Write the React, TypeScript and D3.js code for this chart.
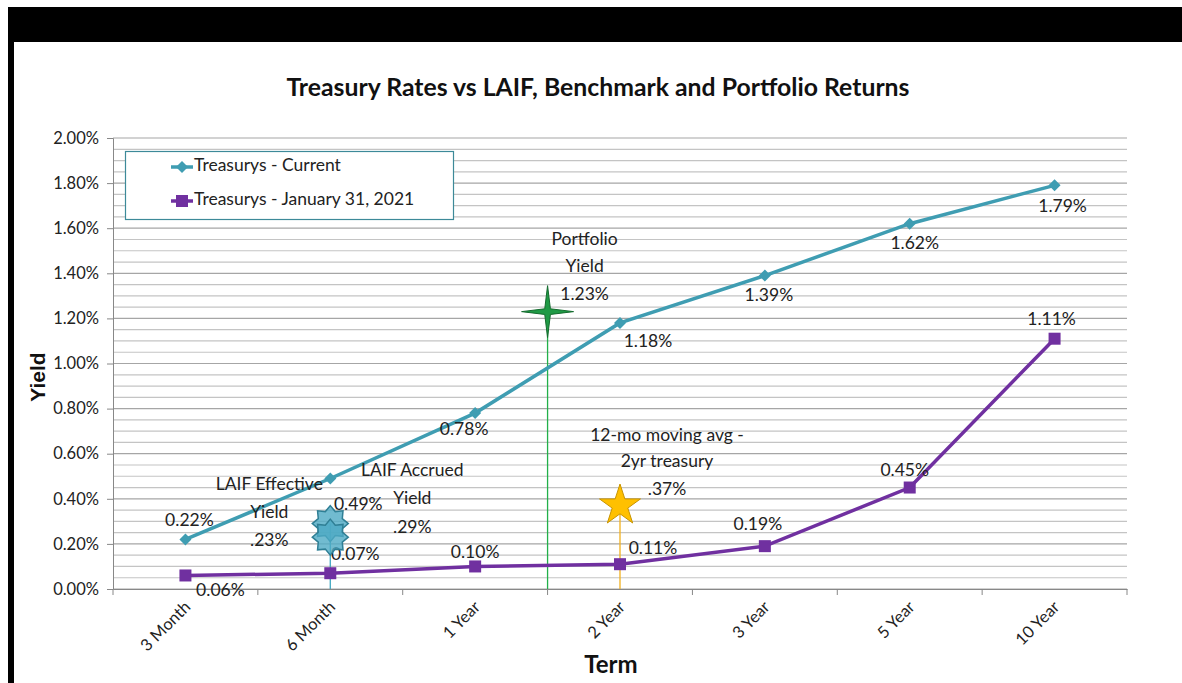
import { useEffect, useRef } from "react";
import * as d3 from "d3";

// categories and values (percent)
const terms = ["3 Month", "6 Month", "1 Year", "2 Year", "3 Year", "5 Year", "10 Year"];
const currentYield = [0.22, 0.49, 0.78, 1.18, 1.39, 1.62, 1.79];
const jan2021Yield = [0.06, 0.07, 0.1, 0.11, 0.19, 0.45, 1.11];
const seriesNames = ["Treasurys - Current", "Treasurys - January 31, 2021"];

// benchmark markers
const portfolioYield = 1.23;
const laifEffective = 0.23;
const laifAccrued = 0.29;
const movingAvg2yr = 0.37;

// label offsets from the points (layout only)
const currentOffsets = [[4, -18], [28, 27], [-11, 17], [28, 20], [4, 21], [5, 21], [8, 22]];
const janOffsets = [[35, 16], [25, -18], [0, -13], [33, -15], [-7, -21], [-5, -16], [-3, -18]];

const FONT = "Lato, 'Open Sans', sans-serif";
const TEAL = "#3f9db2";
const PURPLE = "#7030a0";

// star path with n points
const starPath = (n: number, rOut: number, rIn: number) => {
  const pts: [number, number][] = [];
  for (let i = 0; i < n * 2; i++) {
    const r = i % 2 === 0 ? rOut : rIn;
    const a = (Math.PI * i) / n - Math.PI / 2;
    pts.push([Math.cos(a) * r, Math.sin(a) * r]);
  }
  return d3.line()(pts) + "Z";
};

const App = () => {
  const ref = useRef<SVGSVGElement>(null);

  useEffect(() => {
    const width = 1182;
    const height = 683;
    const left = 113, right = 1127, top = 138, bottom = 589;

    const svg = d3.select(ref.current);
    svg.selectAll("*").remove();

    svg.append("rect").attr("width", width).attr("height", height).attr("fill", "#fff");
    // frame
    svg.append("rect").attr("x", 8).attr("y", 7).attr("width", width - 8).attr("height", 35).attr("fill", "#000");
    svg.append("rect").attr("x", 8).attr("y", 42).attr("width", 6).attr("height", height - 42).attr("fill", "#000");

    const x = d3.scaleBand().domain(terms).range([left, right]);
    const y = d3.scaleLinear().domain([0, 2]).range([bottom, top]);
    const cx = (t: string) => (x(t) as number) + x.bandwidth() / 2;

    // title
    svg.append("text")
      .attr("x", 598).attr("y", 96)
      .attr("text-anchor", "middle")
      .attr("font-family", FONT).attr("font-weight", "bold").attr("font-size", 25)
      .attr("textLength", 623).attr("lengthAdjust", "spacingAndGlyphs")
      .attr("fill", "#111")
      .text("Treasury Rates vs LAIF, Benchmark and Portfolio Returns");

    // gridlines
    const minor = y.ticks(50);
    svg.append("g").selectAll("line").data(minor).enter().append("line")
      .attr("x1", left).attr("x2", right)
      .attr("y1", d => y(d)).attr("y2", d => y(d))
      .attr("stroke", d => (Math.round(d * 100) % 20 === 0 ? "#a6a6a6" : "#c4c4c4"))
      .attr("stroke-width", 1.2);

    // y axis
    const yAxis = svg.append("g")
      .attr("transform", `translate(${left},0)`)
      .call(d3.axisLeft(y).ticks(10).tickSize(6).tickPadding(8).tickFormat(d => (d as number).toFixed(2) + "%"));
    yAxis.select(".domain").attr("stroke", "#888");
    yAxis.selectAll(".tick line").attr("stroke", "#888");
    yAxis.selectAll("text").attr("font-family", FONT).attr("font-size", 16.5).attr("fill", "#222");

    // x axis
    const xAxis = svg.append("g")
      .attr("transform", `translate(0,${bottom})`)
      .call(d3.axisBottom(x).tickSize(0).tickFormat(() => ""));
    xAxis.select(".domain").attr("stroke", "#888");
    svg.append("g").selectAll("line").data([...terms.map(t => x(t) as number), right]).enter().append("line")
      .attr("x1", d => d).attr("x2", d => d)
      .attr("y1", bottom).attr("y2", bottom + 6)
      .attr("stroke", "#888");
    svg.append("g").selectAll("text").data(terms).enter().append("text")
      .attr("transform", d => `translate(${cx(d) + 6},${bottom + 19}) rotate(-45)`)
      .attr("text-anchor", "end")
      .attr("font-family", FONT).attr("font-size", 16.5).attr("fill", "#222")
      .text(d => d);

    // axis titles
    svg.append("text")
      .attr("transform", "translate(45,377) rotate(-90)")
      .attr("text-anchor", "middle")
      .attr("font-family", "'Liberation Sans', Arial, sans-serif").attr("font-weight", "bold").attr("font-size", 21)
      .attr("fill", "#111")
      .text("Yield");
    svg.append("text")
      .attr("x", 611).attr("y", 673)
      .attr("text-anchor", "middle")
      .attr("font-family", FONT).attr("font-weight", "bold").attr("font-size", 24)
      .attr("fill", "#111")
      .text("Term");

    // reference lines for markers
    const xPort = (x("1 Year") as number) + x.bandwidth();
    const xLaif = cx("6 Month");
    const xAvg = cx("2 Year");
    const vlines: [number, number, string][] = [
      [xPort, portfolioYield, "#22b04a"],
      [xLaif, laifAccrued, "#3fa7c0"],
      [xAvg, movingAvg2yr, "#f2b01e"],
    ];
    svg.append("g").selectAll("line").data(vlines).enter().append("line")
      .attr("x1", d => d[0]).attr("x2", d => d[0])
      .attr("y1", d => y(d[1])).attr("y2", bottom)
      .attr("stroke", d => d[2]).attr("stroke-width", 1.3);

    // series lines
    const line = d3.line<number>().x((_, i) => cx(terms[i])).y(d => y(d));
    svg.append("path").datum(jan2021Yield).attr("d", line).attr("fill", "none")
      .attr("stroke", PURPLE).attr("stroke-width", 3.5);
    svg.append("path").datum(currentYield).attr("d", line).attr("fill", "none")
      .attr("stroke", TEAL).attr("stroke-width", 3.5);

    const diamond = "M0,-6L6,0L0,6L-6,0Z";
    svg.append("g").selectAll("path").data(currentYield).enter().append("path")
      .attr("d", diamond)
      .attr("transform", (d, i) => `translate(${cx(terms[i])},${y(d)})`)
      .attr("fill", TEAL);
    svg.append("g").selectAll("rect").data(jan2021Yield).enter().append("rect")
      .attr("x", (_, i) => cx(terms[i]) - 6).attr("y", d => y(d) - 6)
      .attr("width", 12).attr("height", 12)
      .attr("fill", PURPLE);

    // data labels
    const labelStyle = (sel: any) => sel
      .attr("text-anchor", "middle").attr("dominant-baseline", "middle")
      .attr("font-family", FONT).attr("font-size", 17.5).attr("fill", "#222");
    svg.append("g").selectAll("text").data(currentYield).enter().append("text")
      .attr("x", (_, i) => cx(terms[i]) + currentOffsets[i][0])
      .attr("y", (d, i) => y(d) + currentOffsets[i][1])
      .call(labelStyle)
      .text(d => d.toFixed(2) + "%");
    svg.append("g").selectAll("text").data(jan2021Yield).enter().append("text")
      .attr("x", (_, i) => cx(terms[i]) + janOffsets[i][0])
      .attr("y", (d, i) => y(d) + janOffsets[i][1])
      .call(labelStyle)
      .text(d => d.toFixed(2) + "%");

    // stars
    const laifG = svg.append("g");
    [laifAccrued, laifEffective].forEach(v => {
      laifG.append("path")
        .attr("d", starPath(8, 18, 13))
        .attr("transform", `translate(${xLaif},${y(v)})`)
        .attr("fill", "#4eaac4").attr("fill-opacity", 0.8)
        .attr("stroke", "#2f7f95").attr("stroke-width", 1.5);
    });
    svg.append("path")
      .attr("d", d3.symbol(d3.symbolStar, 520)() as string)
      .attr("transform", `translate(${xAvg},${y(movingAvg2yr)})`)
      .attr("fill", "#ffc000").attr("stroke", "#c89400").attr("stroke-width", 1);
    svg.append("path")
      .attr("d", starPath(4, 26, 4))
      .attr("transform", `translate(${xPort},${y(portfolioYield)})`)
      .attr("fill", "#1f9a45").attr("stroke", "#146b2e").attr("stroke-width", 1);

    // annotations
    const notes: [number, number, string[], number, number[]][] = [
      [xPort, portfolioYield, ["Portfolio", "Yield", portfolioYield.toFixed(2) + "%"], 37, [-71, -44, -16]],
      [xAvg, movingAvg2yr, ["12-mo moving avg -", "2yr treasury", "." + Math.round(movingAvg2yr * 100) + "%"], 47, [-69, -43, -15]],
      [xLaif, laifEffective, ["LAIF Effective", "Yield", "." + Math.round(laifEffective * 100) + "%"], -61, [-52, -24, 4]],
      [xLaif, laifAccrued, ["LAIF Accrued", "Yield", "." + Math.round(laifAccrued * 100) + "%"], 82, [-52, -24, 5]],
    ];
    notes.forEach(([nx, v, lines, dx, dys]) => {
      lines.forEach((t, k) => {
        svg.append("text")
          .attr("x", nx + dx).attr("y", y(v) + dys[k])
          .call(labelStyle)
          .text(t);
      });
    });

    // legend
    const lg = svg.append("g");
    lg.append("rect").attr("x", 125.5).attr("y", 151.5).attr("width", 328).attr("height", 68)
      .attr("fill", "#fff").attr("stroke", "#3d8a99").attr("stroke-width", 1.2);
    seriesNames.forEach((name, i) => {
      const ly = 167 + i * 34;
      const color = i === 0 ? TEAL : PURPLE;
      lg.append("line").attr("x1", 171).attr("x2", 193).attr("y1", ly).attr("y2", ly)
        .attr("stroke", color).attr("stroke-width", 3.5);
      if (i === 0) {
        lg.append("path").attr("d", diamond).attr("transform", `translate(182,${ly})`).attr("fill", color);
      } else {
        lg.append("rect").attr("x", 176).attr("y", ly - 6).attr("width", 12).attr("height", 12).attr("fill", color);
      }
      lg.append("text").attr("x", 194).attr("y", ly)
        .attr("dominant-baseline", "middle")
        .attr("font-family", FONT).attr("font-size", 17.5).attr("fill", "#222")
        .text(name);
    });
  }, []);

  return (
    <svg
      ref={ref}
      width={1182}
      height={683}
      style={{ position: "absolute", left: 0, top: 0 }}
    />
  );
};

export default App;
